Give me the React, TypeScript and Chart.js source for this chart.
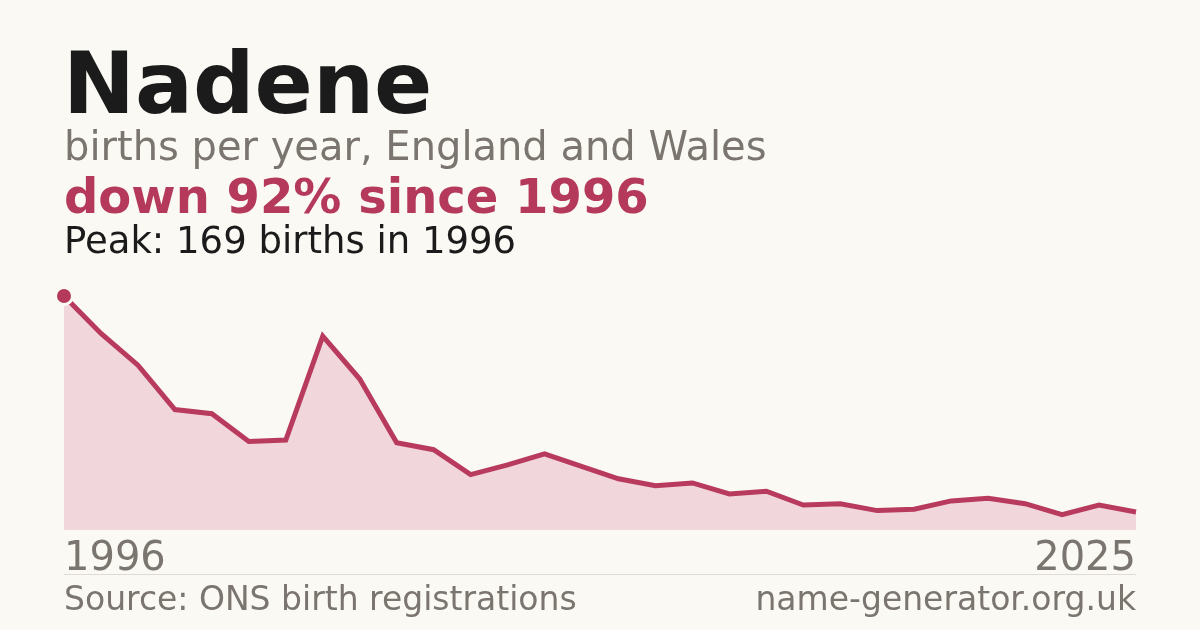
import React, { useEffect, useRef } from "react";
import { Chart, registerables } from "chart.js";

Chart.register(...registerables);

const years: number[] = [
  1996, 1997, 1998, 1999, 2000, 2001, 2002, 2003, 2004, 2005,
  2006, 2007, 2008, 2009, 2010, 2011, 2012, 2013, 2014, 2015,
  2016, 2017, 2018, 2019, 2020, 2021, 2022, 2023, 2024, 2025,
];
const births: number[] = [
  169, 142, 119, 87, 84, 64, 65, 140, 109, 63,
  58, 40, 47, 55, 46, 37, 32, 34, 26, 28,
  18, 19, 14, 15, 21, 23, 19, 11, 18, 13,
];
const titleText = "Nadene";
const subtitleText = "births per year, England and Wales";
const changeText = "down 92% since 1996";
const peakText = "Peak: 169 births in 1996";
const startLabel = "1996";
const endLabel = "2025";
const sourceText = "Source: ONS birth registrations";
const siteText = "name-generator.org.uk";

const FONT = "'DejaVu Sans', sans-serif";
const BG = "#faf9f4";
const GREY = "#7a756e";
const DARK = "#1b1b1b";
const RED = "#b5395a";

const textPlugin = {
  id: "textOverlay",
  beforeDraw(chart: any) {
    const ctx = chart.ctx;
    ctx.save();
    ctx.fillStyle = BG;
    ctx.fillRect(0, 0, chart.width, chart.height);
    ctx.restore();
  },
  afterDraw(chart: any) {
    const ctx = chart.ctx;
    const left = chart.chartArea.left;
    const right = chart.chartArea.right;
    ctx.save();
    ctx.textBaseline = "alphabetic";
    ctx.textAlign = "left";

    ctx.fillStyle = DARK;
    ctx.font = `bold 86px ${FONT}`;
    ctx.fillText(titleText, left - 1, 113);

    ctx.fillStyle = GREY;
    ctx.font = `40px ${FONT}`;
    ctx.fillText(subtitleText, left, 160);

    ctx.fillStyle = RED;
    ctx.font = `bold 48px ${FONT}`;
    ctx.fillText(changeText, left, 213);

    ctx.fillStyle = DARK;
    ctx.font = `37px ${FONT}`;
    ctx.fillText(peakText, left, 253);

    ctx.fillStyle = GREY;
    ctx.font = `40px ${FONT}`;
    ctx.fillText(startLabel, left, 570);
    ctx.textAlign = "right";
    ctx.fillText(endLabel, right, 570);

    ctx.strokeStyle = "#dedbd4";
    ctx.lineWidth = 1;
    ctx.beginPath();
    ctx.moveTo(left, 574.5);
    ctx.lineTo(right, 574.5);
    ctx.stroke();

    ctx.font = `33px ${FONT}`;
    ctx.fillStyle = GREY;
    ctx.textAlign = "left";
    ctx.fillText(sourceText, left, 610);
    ctx.textAlign = "right";
    ctx.fillText(siteText, right, 610);
    ctx.restore();
  },
};

export default function App() {
  const ref = useRef<HTMLCanvasElement | null>(null);

  useEffect(() => {
    document.body.style.margin = "0";
    document.body.style.background = BG;
    if (!ref.current) return;
    const chart = new Chart(ref.current, {
      type: "line",
      data: {
        labels: years.map(String),
        datasets: [
          {
            data: births,
            borderColor: "#b83b5e",
            borderWidth: 5,
            backgroundColor: "#f1d6dc",
            fill: "origin",
            tension: 0,
            pointRadius: births.map((_, i) => (i === 0 ? 8.5 : 0)),
            pointBackgroundColor: RED,
            pointBorderColor: BG,
            pointBorderWidth: 3,
            pointHoverRadius: 0,
            clip: false,
          } as any,
        ],
      },
      options: {
        animation: false,
        responsive: false,
        maintainAspectRatio: false,
        devicePixelRatio: 1,
        layout: { padding: { left: 64, right: 64, top: 296, bottom: 100 } },
        plugins: {
          legend: { display: false },
          tooltip: { enabled: false },
          title: { display: false },
        },
        scales: {
          x: { display: false, offset: false },
          y: { display: false, min: 0, max: 169 },
        },
      },
      plugins: [textPlugin],
    });
    return () => chart.destroy();
  }, []);

  return (
    <div style={{ position: "relative", width: 1200, height: 630, background: BG }}>
      <canvas ref={ref} width={1200} height={630} style={{ width: 1200, height: 630, display: "block" }} />
    </div>
  );
}
